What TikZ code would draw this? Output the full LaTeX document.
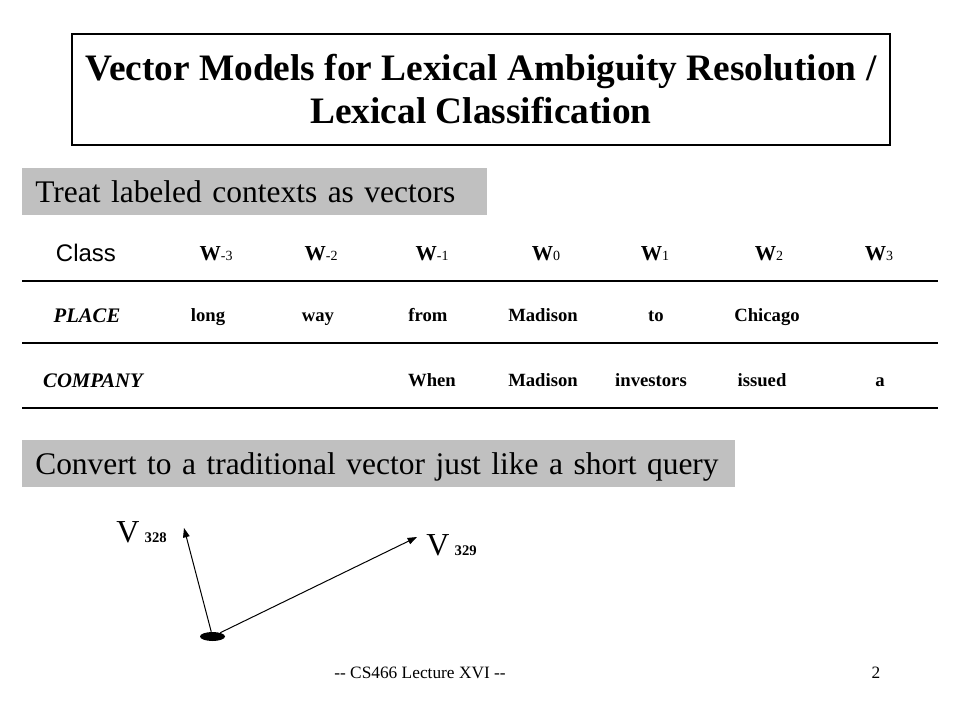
\documentclass[tikz,border=0pt]{standalone}
\usepackage{fontspec}
\setmainfont{Liberation Serif}
\newfontfamily\classfont{Liberation Sans}
\newfontfamily\boxfont{Liberation Serif}[WordSpace=0.8]
\usepackage{xcolor}
\usetikzlibrary{positioning,arrows.meta,shapes.geometric}
\definecolor{boxgray}{HTML}{C0C0C0}
\newcommand{\wsub}[2]{#1{\fontsize{10.5}{12}\selectfont\mdseries #2}}

\begin{document}
\begin{tikzpicture}[x=0.75pt, y=-0.75pt, >={Triangle[length=7pt,width=5pt]},
    hdr/.style={anchor=base, inner sep=0pt, font=\fontsize{16}{19}\selectfont\bfseries},
    word/.style={anchor=base, inner sep=0pt, font=\fontsize{14}{17}\selectfont\bfseries},
    cls/.style={anchor=base, inner sep=0pt, font=\fontsize{15.5}{18}\selectfont\bfseries\itshape},
    graybox/.style={fill=boxgray, anchor=north west, inner xsep=9.75pt, inner ysep=6pt,
        text height=19.5pt, text depth=3.75pt, align=left, font=\boxfont\fontsize{23.6}{28}\selectfont},
    rule/.style={line width=1pt}]

    \useasboundingbox (0,0) rectangle (960,720);

    % title
    \node[draw, line width=0.8pt, minimum width=613.5pt, minimum height=83.25pt, align=center,
        font=\fontsize{28}{32.25}\selectfont\bfseries] (title) at (481,89.5)
        {Vector Models for Lexical Ambiguity Resolution /\\Lexical Classification};

    \node[graybox, text width=329.25pt] (treat) at (22,168) {\mbox{Treat labeled contexts as vectors}};

    % table header
    \node[anchor=base, inner sep=0pt, font=\classfont\fontsize{18}{21}\selectfont] (class) at (86,262) {Class};
    \node[hdr] (wm3) at (216,261) {\wsub{W}{-3}};
    \node[hdr] (wm2) at (321,261) {\wsub{W}{-2}};
    \node[hdr] (wm1) at (432,261) {\wsub{W}{-1}};
    \node[hdr] (w0) at (546,261) {\wsub{W}{0}};
    \node[hdr] (w1) at (655,261) {\wsub{W}{1}};
    \node[hdr] (w2) at (769,261) {\wsub{W}{2}};
    \node[hdr] (w3) at (879,261) {\wsub{W}{3}};

    \draw[rule] (22,281) -- (938,281);
    \draw[rule] (22,343) -- (938,343);
    \draw[rule] (22,408) -- (938,408);

    % rows
    \node[cls] (place) at (87,322) {PLACE};
    \node[word] (p1) at (208,321) {long};
    \node[word] (p2) at (318,321) {way};
    \node[word] (p3) at (428,321) {from};
    \node[word] (p4) at (543,321) {Madison};
    \node[word] (p5) at (656,321) {to};
    \node[word] (p6) at (767,321) {Chicago};

    \node[cls] (company) at (93,387) {COMPANY};
    \node[word] (c3) at (432,386) {When};
    \node[word] (c4) at (543,386) {Madison};
    \node[word] (c5) at (651,386) {investors};
    \node[word] (c6) at (762,386) {issued};
    \node[word] (c7) at (880,386) {a};

    \node[graybox, text width=515.25pt] (convert) at (22,440)
        {\mbox{Convert to a traditional vector just like a short query}};

    % vectors
    \node[ellipse, fill=black, inner sep=0pt, minimum width=18.75pt, minimum height=6.75pt] (origin) at (212.5,636.5) {};
    \coordinate (tip328) at (184,528);
    \coordinate (tip329) at (417,537);
    \draw[->, line width=0.75pt] (origin) -- (tip328);
    \draw[->, line width=0.75pt] (origin) -- (tip329);

    \node[anchor=base west, inner sep=0pt, font=\fontsize{24}{28}\selectfont] (v328) at (116,542)
        {V\,{\fontsize{11}{13}\selectfont\bfseries 328}};
    \node[anchor=base west, inner sep=0pt, font=\fontsize{24}{28}\selectfont] (v329) at (426,555)
        {V\,{\fontsize{11}{13}\selectfont\bfseries 329}};

    % footer
    \node[anchor=base, inner sep=0pt, font=\fontsize{13}{15}\selectfont] (foot) at (420,678) {-{}- CS466 Lecture XVI -{}-};
    \node[anchor=base, inner sep=0pt, font=\fontsize{13}{15}\selectfont] (page) at (876,678) {2};

\end{tikzpicture}
\end{document}
